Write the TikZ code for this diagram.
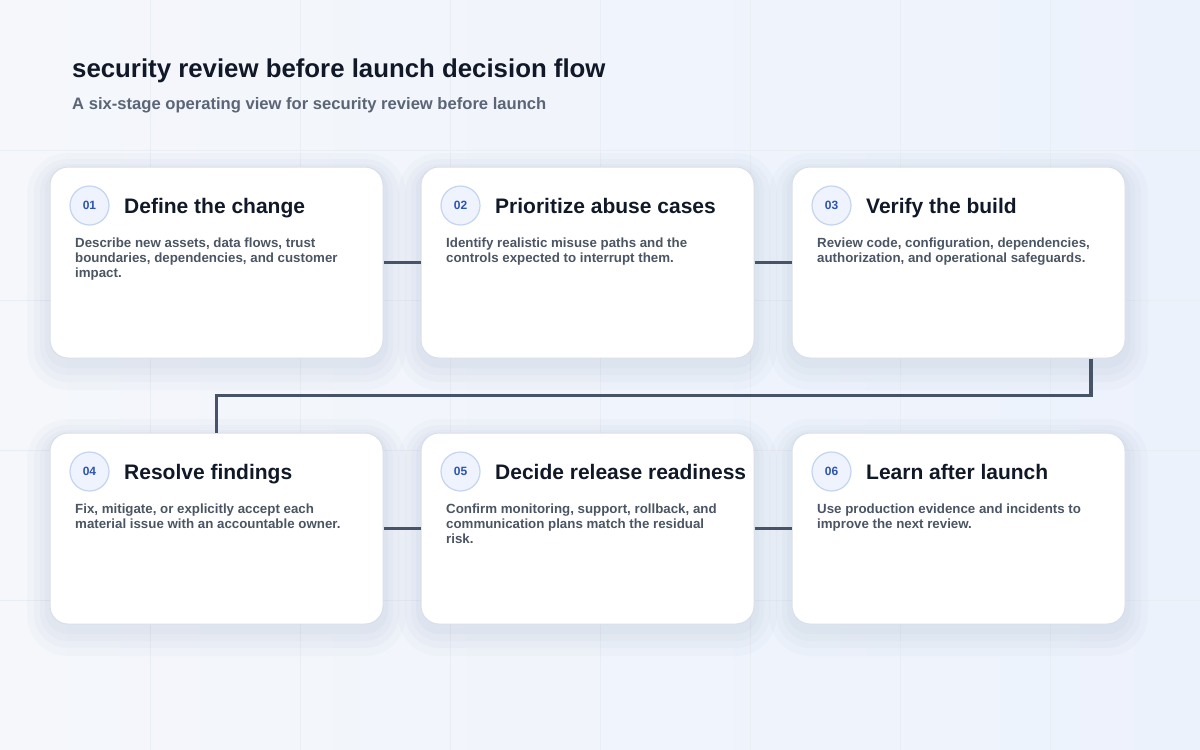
\documentclass[tikz,border=0pt]{standalone}
\usepackage{fontspec}
\setmainfont{Liberation Sans}

\definecolor{ink}{HTML}{111827}
\definecolor{muted}{HTML}{5B6575}
\definecolor{bodytext}{HTML}{4B5563}
\definecolor{badgeblue}{HTML}{2D55AE}
\definecolor{badgefill}{HTML}{EEF3FD}
\definecolor{badgeline}{HTML}{C5D4EF}
\definecolor{cardline}{HTML}{D9DFE8}
\definecolor{linkgray}{HTML}{475467}
\definecolor{bgleft}{HTML}{F5F7FB}
\definecolor{bgright}{HTML}{ECF2FC}
\definecolor{gridgray}{HTML}{E9EDF4}
\definecolor{shadowc}{HTML}{6E7FA3}

\begin{document}
\begin{tikzpicture}[x=1pt,y=-1pt]
        \tikzstyle{card}=[draw=cardline,line width=1pt,fill=white,rounded corners=18pt,minimum width=333pt,minimum height=191pt,
          preaction={draw=shadowc,draw opacity=0.03,line width=46pt,transform canvas={yshift=-9pt}},
          preaction={draw=shadowc,draw opacity=0.035,line width=32pt,transform canvas={yshift=-8pt}},
          preaction={draw=shadowc,draw opacity=0.035,line width=20pt,transform canvas={yshift=-7pt}},
          preaction={draw=shadowc,draw opacity=0.035,line width=10pt,transform canvas={yshift=-5pt}}]
        \tikzstyle{badge}=[circle,draw=badgeline,fill=badgefill,line width=1.2pt,minimum size=39pt,inner sep=0pt,text=badgeblue,font=\fontsize{12}{14}\selectfont\bfseries]
        \tikzstyle{head}=[anchor=base west,inner sep=0pt,text=ink,font=\fontsize{21}{25}\selectfont\bfseries]
        \tikzstyle{body}=[anchor=north west,inner sep=0pt,align=left,text=bodytext,font=\fontsize{13.3}{15}\selectfont\bfseries]
        \tikzstyle{link}=[draw=linkgray,line width=3.3pt]

        % background
        \useasboundingbox (0,0) rectangle (1200,750);
        \shade[left color=bgleft,right color=bgright] (0,0) rectangle (1200,750);
        \foreach \gx in {150,300,...,1050} \draw[gridgray,line width=0.6pt] (\gx,0) -- (\gx,750);
        \foreach \gy in {150,300,...,600} \draw[gridgray,line width=0.6pt] (0,\gy) -- (1200,\gy);

        \node[anchor=base west,inner sep=0pt,text=ink,font=\fontsize{25.8}{30}\selectfont\bfseries](title) at (72,77){security review before launch decision flow};
        \node[anchor=base west,inner sep=0pt,text=muted,font=\fontsize{16.6}{20}\selectfont\bfseries](subtitle) at (72,109.5){A six-stage operating view for security review before launch};

        \node[card](c1) at (216.5,262.5){};
        \node[card](c2) at (587.5,262.5){};
        \node[card](c3) at (958.5,262.5){};
        \node[card](c4) at (216.5,528.5){};
        \node[card](c5) at (587.5,528.5){};
        \node[card](c6) at (958.5,528.5){};

        \node[badge](b1) at (89.5,205.5){01};
        \node[head](h1) at (124,213){Define the change};
        \node[body](t1) at (75,237.5){Describe new assets, data flows, trust\\boundaries, dependencies, and customer\\impact.};

        \node[badge](b2) at (460.5,205.5){02};
        \node[head](h2) at (495,213){Prioritize abuse cases};
        \node[body](t2) at (446,237.5){Identify realistic misuse paths and the\\controls expected to interrupt them.};

        \node[badge](b3) at (831.5,205.5){03};
        \node[head](h3) at (866,213){Verify the build};
        \node[body](t3) at (817,237.5){Review code, configuration, dependencies,\\authorization, and operational safeguards.};

        \node[badge](b4) at (89.5,471.5){04};
        \node[head](h4) at (124,479){Resolve findings};
        \node[body](t4) at (75,503.5){Fix, mitigate, or explicitly accept each\\material issue with an accountable owner.};

        \node[badge](b5) at (460.5,471.5){05};
        \node[head](h5) at (495,479){Decide release readiness};
        \node[body](t5) at (446,503.5){Confirm monitoring, support, rollback, and\\communication plans match the residual\\risk.};

        \node[badge](b6) at (831.5,471.5){06};
        \node[head](h6) at (866,479){Learn after launch};
        \node[body](t6) at (817,503.5){Use production evidence and incidents to\\improve the next review.};

        \coordinate (drop) at (c3.south -| 1091,0);

        \draw[link] (c1.east) -- (c2.west);
        \draw[link] (c2.east) -- (c3.west);
        \draw[link] (drop) -- ++(0,37) -| (c4.north);
        \draw[link] (c4.east) -- (c5.west);
        \draw[link] (c5.east) -- (c6.west);

    \end{tikzpicture}
\end{document}
